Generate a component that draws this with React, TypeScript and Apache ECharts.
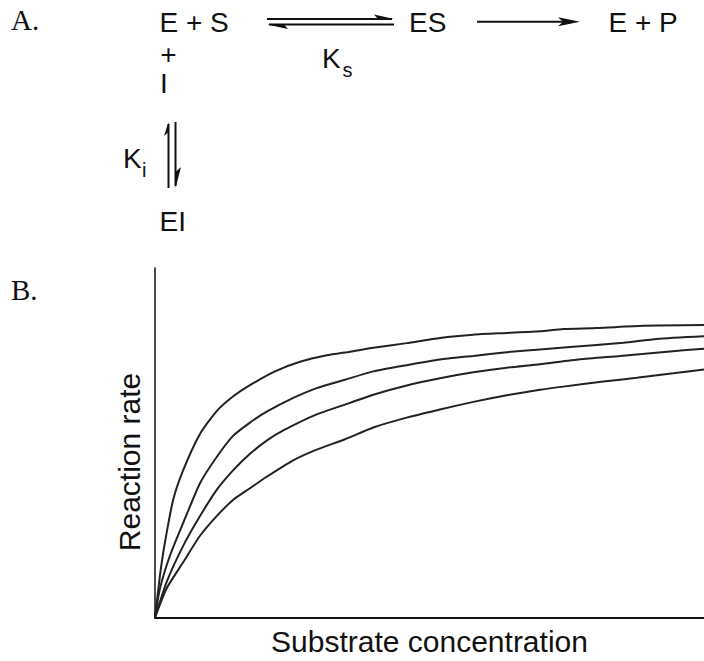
import { useEffect, useRef } from "react";
import * as echarts from "echarts";

// Axis ranges (arbitrary units: substrate concentration vs reaction rate)
const xMax = 549;
const yMax = 355;

// Reaction-rate curves (uninhibited on top, increasing inhibitor below)
const curve1: [number, number][] = [
  [0, 0], [5, 43], [10, 76.7], [18.3, 120], [28.3, 150], [45, 186.5], [61.7, 209.7],
  [78.3, 224.7], [95, 236], [120, 250], [145, 259.7], [171.7, 266.3], [195, 270],
  [218.3, 274], [251.7, 278.7], [285, 284], [318.3, 287.3], [351.7, 289], [385, 290.7],
  [408.3, 293], [441.7, 294], [488.3, 296.3], [549, 297],
];
const curve2: [number, number][] = [
  [0, 0], [5, 29.7], [15, 63], [28.3, 96.3], [45, 136.3], [61.7, 163], [78.3, 184.7],
  [95, 198], [111.7, 209], [138.3, 223], [161.7, 233], [190, 241.5], [218.3, 250],
  [251.7, 256.3], [285, 262], [318.3, 265.7], [351.7, 269.5], [385, 272.3], [415, 274.7],
  [468.3, 279], [501.7, 283], [549, 285.7],
];
const curve3: [number, number][] = [
  [0, 0], [11.7, 36.3], [28.3, 73], [45, 103], [61.7, 129.7], [78.3, 149.7], [95, 166.3],
  [111.7, 179.7], [128.3, 190], [161.7, 206.3], [195, 218], [218.3, 226.3], [251.7, 235.7],
  [285, 243], [318.3, 249], [351.7, 253.7], [385, 257.3], [425, 262.3], [465, 265.7],
  [515, 270.3], [549, 273],
];
const curve4: [number, number][] = [
  [0, 0], [11.7, 29.7], [28.3, 56.3], [45, 83], [61.7, 103], [78.3, 119.7], [95, 131.3],
  [111.7, 143], [138.3, 159.7], [161.7, 170.5], [190, 181], [218.3, 193], [251.7, 203],
  [285, 211.3], [318.3, 219], [351.7, 225.7], [385, 231.3], [408.3, 234.5], [448.3, 239.7],
  [481.7, 243.5], [518.3, 248], [549, 252],
];
const curves = [curve1, curve2, curve3, curve4];

const xTitle = "Substrate concentration";
const yTitle = "Reaction rate";

export default function App() {
  const ref = useRef<HTMLDivElement>(null);

  useEffect(() => {
    const chart = echarts.init(ref.current!, null, { renderer: "svg" });
    const sans = "'Liberation Sans', Arial, Helvetica, sans-serif";
    const serif = "'Liberation Serif', 'Times New Roman', serif";
    const ink = "#111";

    const T = (text: string, x: number, baseline: number, size = 28, family = sans) => ({
      type: "text",
      x,
      y: baseline - 0.35 * size,
      style: { text, fontSize: size, fontFamily: family, fill: ink, align: "left", verticalAlign: "middle" },
    });
    const L = (x1: number, y1: number, x2: number, y2: number, w = 2) => ({
      type: "line",
      shape: { x1, y1, x2, y2 },
      style: { stroke: ink, lineWidth: w },
    });
    const P = (pts: number[][]) => ({ type: "polygon", shape: { points: pts }, style: { fill: ink } });

    const graphic: any[] = [
      T("A.", 11, 30, 29, serif),
      T("B.", 11, 300, 29, serif),
      T("E + S", 159.5, 32.5),
      T("ES", 409, 32.5),
      T("E + P", 608.5, 32.5),
      T("+", 160.3, 64.5),
      T("I", 160, 93.3),
      T("K", 322, 68.3),
      T("s", 342.4, 77, 20),
      T("K", 123, 168.3),
      T("i", 142, 176.7, 20),
      T("EI", 159.5, 231.7),
      // equilibrium half-arrows E+S <-> ES
      L(267, 19, 392, 19),
      P([[394, 19], [374, 14.5], [378, 19]]),
      L(269, 24.5, 394, 24.5),
      P([[267, 24.5], [288, 29], [284, 24.5]]),
      // ES -> E + P
      L(477, 21.7, 566, 21.7),
      P([[580, 21.7], [558, 17.2], [563, 21.7], [558, 26.2]]),
      // vertical equilibrium E+I <-> EI
      L(168.5, 124, 168.5, 188),
      P([[168.5, 122], [164, 136], [168.5, 132]]),
      L(175.5, 122, 175.5, 186),
      P([[175.5, 188], [181, 167], [175.5, 172]]),
      // y-axis title
      {
        type: "text",
        x: 129.5,
        y: 462,
        rotation: Math.PI / 2,
        style: { text: yTitle, fontSize: 30, fontFamily: sans, fill: ink, align: "center", verticalAlign: "middle" },
      },
    ];

    chart.setOption({
      animation: false,
      backgroundColor: "#fff",
      grid: { left: 155, right: 0, top: 268, bottom: 38 },
      xAxis: {
        type: "value",
        min: 0,
        max: xMax,
        name: xTitle,
        nameLocation: "middle",
        nameGap: 8.5,
        nameTextStyle: { fontSize: 30, fontFamily: sans, color: ink },
        axisLine: { show: true, onZero: false, lineStyle: { color: ink, width: 2 } },
        axisTick: { show: false },
        axisLabel: { show: false },
        splitLine: { show: false },
      },
      yAxis: {
        type: "value",
        min: 0,
        max: yMax,
        axisLine: { show: true, onZero: false, lineStyle: { color: ink, width: 1.5 } },
        axisTick: { show: false },
        axisLabel: { show: false },
        splitLine: { show: false },
      },
      series: curves.map((c, i) => ({
        name: "curve" + (i + 1),
        type: "line",
        data: c,
        showSymbol: false,
        smooth: 0.2,
        lineStyle: { color: "#222", width: 2 },
      })),
      graphic,
    });

    return () => chart.dispose();
  }, []);

  return (
    <div
      ref={ref}
      style={{ position: "fixed", left: 0, top: 0, width: 704, height: 661, background: "#fff" }}
    />
  );
}
